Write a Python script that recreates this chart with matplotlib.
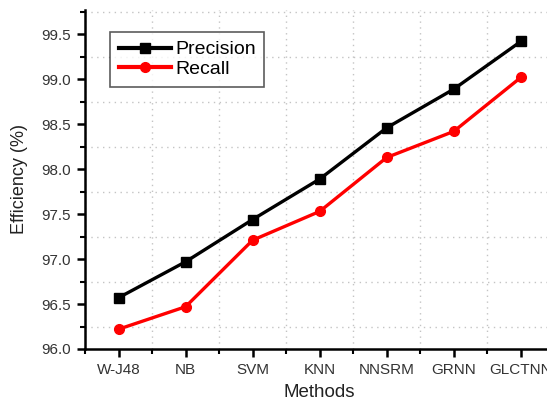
import matplotlib.pyplot as plt
from matplotlib.ticker import MultipleLocator, FixedLocator

plt.rcParams['font.family'] = ['Liberation Sans', 'DejaVu Sans']

methods = ["W-J48", "NB", "SVM", "KNN", "NNSRM", "GRNN", "GLCTNN"]
precision = [96.57, 96.97, 97.44, 97.89, 98.46, 98.89, 99.42]
recall = [96.22, 96.47, 97.21, 97.53, 98.13, 98.42, 99.02]

x = list(range(1, len(methods) + 1))

fig = plt.figure(figsize=(5.47, 4.0), dpi=100)
ax = fig.add_axes([0.1554, 0.1275, 0.858, 0.8475])

ax.plot(x, precision, color="black", linewidth=2.4, marker="s", markersize=6.5,
        label="Precision")
ax.plot(x, recall, color="red", linewidth=2.4, marker="o", markersize=7,
        label="Recall")

ax.set_xlim(0.5, 7.5)
ax.set_ylim(96.0, 99.77)
ax.set_xticks(x)
ax.set_xticklabels(methods)
ax.xaxis.set_minor_locator(FixedLocator([i + 0.5 for i in range(0, 8)]))
ax.yaxis.set_major_locator(MultipleLocator(0.5))
ax.yaxis.set_minor_locator(MultipleLocator(0.25))
ax.yaxis.set_major_formatter(plt.FormatStrFormatter("%.1f"))

# grid only on minor positions, Origin style
ax.grid(which="minor", color="#c4c4c4", linestyle=(0, (1.0, 3.2)), linewidth=1.0)
ax.grid(which="major", visible=False)

for s in ["top", "right"]:
    ax.spines[s].set_visible(False)
for s in ["left", "bottom"]:
    ax.spines[s].set_linewidth(1.8)

ax.tick_params(which="major", direction="out", length=6, width=1.8,
               labelsize=11, labelcolor="#333333", pad=4)
ax.tick_params(which="minor", direction="out", length=3.5, width=1.5)

ax.set_xlabel("Methods", fontsize=13.5, color="#222222", labelpad=5)
ax.set_ylabel("Efficiency (%)", fontsize=13, color="#222222", labelpad=10)

leg = ax.legend(loc="upper left", bbox_to_anchor=(0.053, 0.935), fontsize=14,
                handlelength=2.7, frameon=True, fancybox=False, borderpad=0.45,
                labelspacing=0.1, handletextpad=0.2, borderaxespad=0)
leg.get_frame().set_edgecolor("#333333")
leg.get_frame().set_linewidth(1.2)
for line in leg.get_lines():
    line.set_linewidth(3.0)

plt.savefig("out.png", dpi=100)
plt.close()
